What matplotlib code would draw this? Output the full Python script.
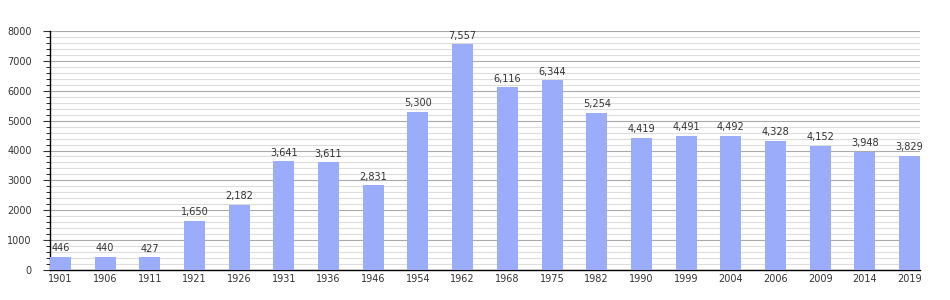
import matplotlib.pyplot as plt
import numpy as np

years = ["1901", "1906", "1911", "1921", "1926", "1931", "1936", "1946", "1954", "1962",
         "1968", "1975", "1982", "1990", "1999", "2004", "2006", "2009", "2014", "2019"]
population = [446, 440, 427, 1650, 2182, 3641, 3611, 2831, 5300, 7557,
              6116, 6344, 5254, 4419, 4491, 4492, 4328, 4152, 3948, 3829]

fig = plt.figure(figsize=(9.5, 3), dpi=100)
ax = fig.add_axes([50 / 950, 30 / 300, 870 / 950, 239 / 300])

x = np.arange(len(years))
w = 0.47
ax.bar(x, population, width=w, color="#9aacfa", zorder=3)

for xi, v in zip(x, population):
    ax.text(xi, v + 120, f"{v:,}", ha="center", va="bottom", fontsize=7, color="#333333", zorder=4)

ax.set_xlim(-w / 2, len(years) - 1 + w / 2)
ax.set_ylim(0, 8000)
ax.set_xticks(x)
ax.set_xticklabels(years)
ax.set_yticks(np.arange(0, 8001, 1000))
ax.set_yticks(np.arange(0, 8001, 200), minor=True)
ax.yaxis.grid(True, which="major", color="#aaaaaa", linewidth=0.8, zorder=0)
ax.yaxis.grid(True, which="minor", color="#dddddd", linewidth=0.8, zorder=0)

for s in ["top", "right"]:
    ax.spines[s].set_visible(False)
ax.spines["left"].set_linewidth(1)
ax.spines["bottom"].set_linewidth(1)
ax.tick_params(axis="y", which="major", length=5, labelsize=7, colors="#333333", pad=8)
ax.tick_params(axis="y", which="minor", length=3)
ax.tick_params(axis="x", length=0, labelsize=7, colors="#333333", pad=3)
for t in ax.get_yticklines() + ax.yaxis.get_minorticklines():
    t.set_color("black")

fig.savefig("out.png", dpi=100)
